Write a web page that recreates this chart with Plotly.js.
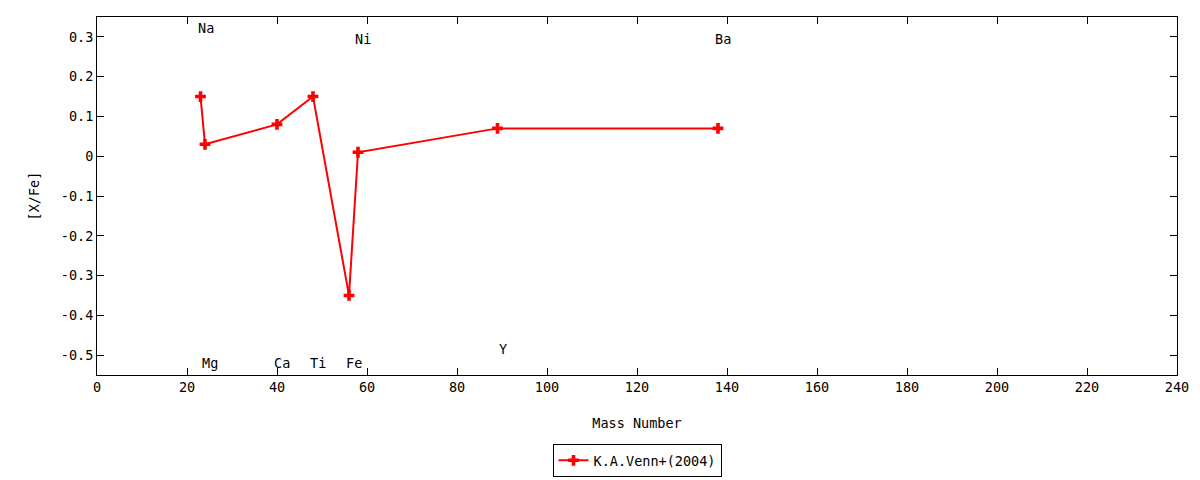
<!DOCTYPE html>
<html>
<head>
<meta charset="utf-8">
<script src="https://cdn.plot.ly/plotly-3.0.1.min.js"></script>
<style>
  html, body { margin: 0; padding: 0; background: #fff; }
  #chart { width: 1200px; height: 480px; }
</style>
</head>
<body>
<div id="chart"></div>
<script>
// [X/Fe] against mass number, K.A.Venn+(2004)

const massNumber = [23, 24, 40, 48, 56, 58, 89, 138];
const xFe = [0.15, 0.03, 0.08, 0.15, -0.35, 0.01, 0.07, 0.07];

// element labels and where they sit on the plot
const elements = ["Na", "Mg", "Ca", "Ti", "Fe", "Ni", "Y", "Ba"];
const labelY = [0.322, -0.52, -0.52, -0.52, -0.52, 0.295, -0.485, 0.295];

const yTicks = [0.3, 0.2, 0.1, 0, -0.1, -0.2, -0.3, -0.4, -0.5];
const yTickText = ["0.3", "0.2", "0.1", "0", "-0.1", "-0.2", "-0.3", "-0.4", "-0.5"];

const RED = "#ff0000";
const FONT = "DejaVu Sans Mono, Liberation Mono, monospace";
const FS = 13.5;

const traces = [{
  x: massNumber,
  y: xFe,
  mode: "lines+markers",
  name: "K.A.Venn+(2004)",
  line: { color: RED, width: 2 },
  marker: { symbol: "cross", size: 9, color: RED }
}];

const annotations = elements.map((el, i) => ({
  x: massNumber[i],
  y: labelY[i],
  text: el,
  showarrow: false,
  xanchor: "center",
  yanchor: "middle",
  xshift: 5,
  font: { family: FONT, size: FS, color: "#000" }
}));

const axisCommon = {
  showline: true,
  linecolor: "#000",
  linewidth: 1,
  mirror: "ticks",
  ticks: "inside",
  ticklen: 7,
  tickcolor: "#000",
  showgrid: false,
  zeroline: false,
  tickfont: { family: FONT, size: FS, color: "#000" }
};

const layout = {
  width: 1200,
  height: 480,
  paper_bgcolor: "#fff",
  plot_bgcolor: "#fff",
  margin: { l: 97, r: 23, t: 17, b: 105, autoexpand: false },
  font: { family: FONT, size: FS, color: "#000" },
  xaxis: Object.assign({}, axisCommon, {
    range: [0, 240],
    tickmode: "linear",
    tick0: 0,
    dtick: 20,
    automargin: false,
    title: { text: "Mass Number", font: { family: FONT, size: FS }, standoff: 24 }
  }),
  yaxis: Object.assign({}, axisCommon, {
    range: [-0.55, 0.35],
    tickmode: "array",
    tickvals: yTicks,
    ticktext: yTickText,
    automargin: false,
    title: { text: "[X/Fe]", font: { family: FONT, size: FS }, standoff: 18 }
  }),
  showlegend: true,
  legend: {
    x: 0.5,
    xanchor: "center",
    y: -0.285,
    yanchor: "bottom",
    bordercolor: "#000",
    borderwidth: 1,
    bgcolor: "#fff",
    font: { family: FONT, size: FS, color: "#000" }
  },
  annotations: annotations
};

Plotly.newPlot("chart", traces, layout, { displayModeBar: false, staticPlot: true });
</script>
</body>
</html>
